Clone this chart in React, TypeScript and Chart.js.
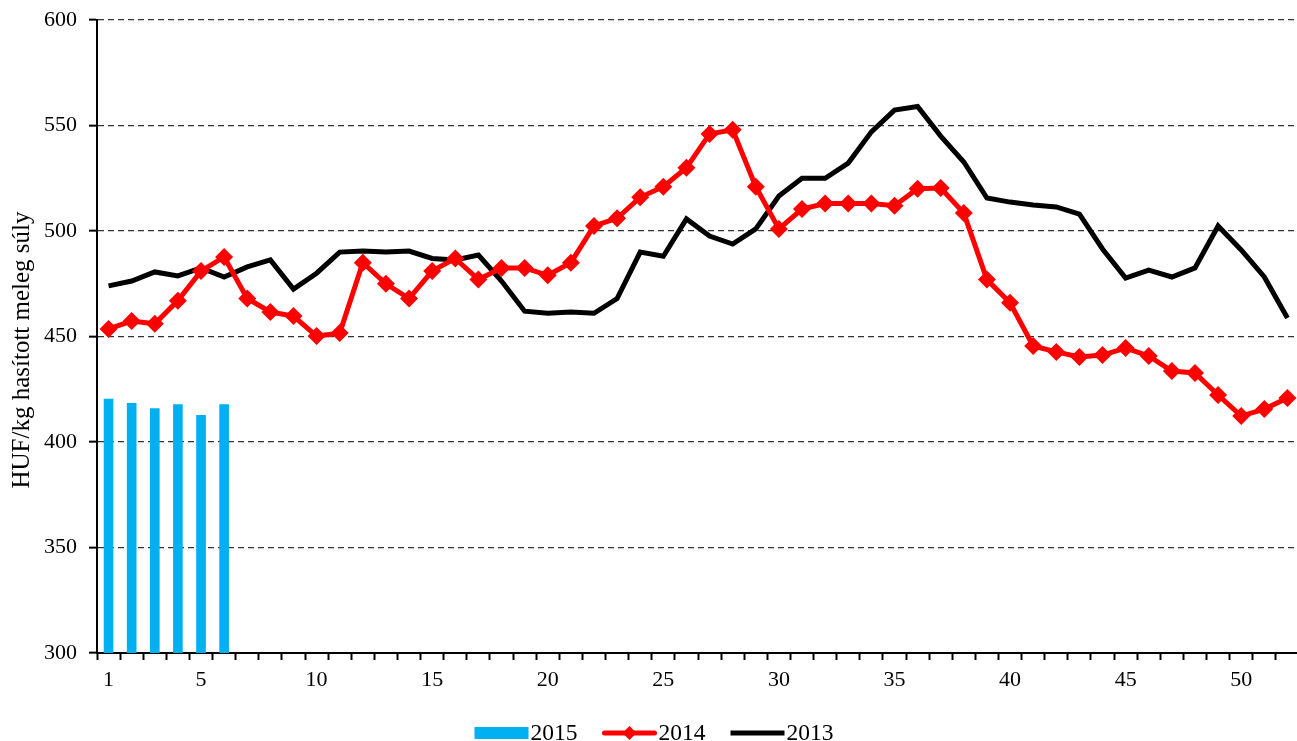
import React, { useEffect, useRef } from 'react';
import { Chart, registerables } from 'chart.js';

Chart.register(...registerables);

const weeks = ['1','2','3','4','5','6','7','8','9','10','11','12','13','14','15','16','17','18','19','20','21','22','23','24','25','26','27','28','29','30','31','32','33','34','35','36','37','38','39','40','41','42','43','44','45','46','47','48','49','50','51','52'];
const shownWeekLabels = ['1','5','10','15','20','25','30','35','40','45','50'];

const values2015 = [420.4, 418.3, 415.8, 417.7, 412.6, 417.7];

const values2014 = [
  453.6, 457.3, 456.0, 467.0, 481.0, 487.7, 468.0, 461.6, 459.7, 450.2,
  451.6, 485.0, 475.0, 468.0, 481.0, 487.0, 477.0, 482.5, 482.5, 479.0,
  485.0, 502.4, 506.0, 516.0, 521.0, 530.0, 546.0, 548.0, 521.0, 501.0,
  510.4, 513.0, 513.0, 513.0, 512.0, 520.0, 520.4, 508.5, 477.0, 466.0,
  445.5, 442.7, 440.3, 441.2, 444.5, 440.8, 433.6, 432.7, 422.3, 412.3,
  415.6, 420.9,
];

const values2013 = [
  474.0, 476.3, 480.6, 478.7, 482.5, 478.2, 483.0, 486.3, 472.5, 480.0,
  490.0, 490.5, 490.0, 490.5, 487.0, 486.3, 488.6, 476.3, 462.0, 461.0,
  461.6, 461.0, 468.0, 490.0, 488.0, 505.7, 497.6, 493.8, 501.0, 516.6,
  525.0, 525.0, 532.2, 547.0, 557.3, 559.0, 545.0, 532.7, 515.6, 513.7,
  512.3, 511.4, 508.0, 491.5, 477.7, 481.5, 478.2, 482.5, 502.4, 491.0,
  478.2, 458.8,
];

const seriesNames = ['2015', '2014', '2013'];
const yMin = 300;
const yMax = 600;
const yStep = 50;
const yTitle = 'HUF/kg hasított meleg súly';

const BLUE = '#00B0F0';
const RED = '#FF0000';
const BLACK = '#000000';
const FONT = "'Liberation Serif', 'Times New Roman', serif";

const titlePlugin = {
  id: 'yTitleText',
  afterDraw(chart: any) {
    const ctx = chart.ctx as CanvasRenderingContext2D;
    ctx.save();
    ctx.font = `25px ${FONT}`;
    ctx.fillStyle = '#000';
    ctx.textAlign = 'center';
    ctx.textBaseline = 'middle';
    ctx.translate(22, 350);
    ctx.rotate(-Math.PI / 2);
    ctx.fillText(yTitle, 0, 0);
    ctx.restore();
  },
};

const legendPlugin = {
  id: 'customLegend',
  afterDraw(chart: any) {
    const ctx = chart.ctx as CanvasRenderingContext2D;
    ctx.save();
    ctx.font = `23.5px ${FONT}`;
    ctx.textBaseline = 'alphabetic';
    ctx.fillStyle = '#000';
    const symW = 54;
    const gapSymText = 2;
    const gapItems = 25;
    const widths = seriesNames.map((n) => symW + gapSymText + ctx.measureText(n).width);
    const total = widths.reduce((a, b) => a + b, 0) + gapItems * (seriesNames.length - 1);
    let x = chart.width / 2 - total / 2;
    const cy = 733;
    const baseline = 740;
    seriesNames.forEach((name, i) => {
      if (i === 0) {
        ctx.fillStyle = BLUE;
        ctx.fillRect(x, cy - 6, symW, 12);
      } else if (i === 1) {
        ctx.strokeStyle = RED;
        ctx.lineWidth = 5;
        ctx.lineCap = 'round';
        ctx.beginPath();
        ctx.moveTo(x + 2, cy);
        ctx.lineTo(x + symW - 2, cy);
        ctx.stroke();
        ctx.fillStyle = RED;
        const mx = x + symW / 2;
        ctx.beginPath();
        ctx.moveTo(mx - 7, cy);
        ctx.lineTo(mx, cy - 7);
        ctx.lineTo(mx + 7, cy);
        ctx.lineTo(mx, cy + 7);
        ctx.closePath();
        ctx.fill();
      } else {
        ctx.strokeStyle = BLACK;
        ctx.lineWidth = 5;
        ctx.lineCap = 'butt';
        ctx.beginPath();
        ctx.moveTo(x, cy);
        ctx.lineTo(x + symW, cy);
        ctx.stroke();
      }
      ctx.fillStyle = '#000';
      ctx.fillText(name, x + symW + gapSymText, baseline);
      x += widths[i] + gapItems;
    });
    ctx.restore();
  },
};

function ChartView() {
  const canvasRef = useRef<HTMLCanvasElement | null>(null);

  useEffect(() => {
    const canvas = canvasRef.current;
    if (!canvas) return;
    const chart = new Chart(canvas, {
      type: 'bar',
      data: {
        labels: weeks,
        datasets: [
          {
            type: 'bar',
            label: seriesNames[0],
            data: values2015,
            backgroundColor: BLUE,
            borderWidth: 0,
            barThickness: 9,
            order: 3,
          } as any,
          {
            type: 'line',
            label: seriesNames[1],
            data: values2014,
            borderColor: RED,
            backgroundColor: RED,
            borderWidth: 5,
            pointStyle: 'rectRot',
            pointRadius: 9,
            pointBorderWidth: 0,
            pointBackgroundColor: RED,
            tension: 0,
            order: 1,
          } as any,
          {
            type: 'line',
            label: seriesNames[2],
            data: values2013,
            borderColor: BLACK,
            backgroundColor: BLACK,
            borderWidth: 5,
            pointRadius: 0,
            tension: 0,
            order: 2,
          } as any,
        ],
      },
      options: {
        responsive: false,
        animation: false,
        devicePixelRatio: 1,
        layout: { padding: { top: 20, right: 7, left: 0, bottom: 0 } },
        plugins: {
          legend: { display: false },
          tooltip: { enabled: false },
        },
        scales: {
          x: {
            type: 'category',
            offset: true,
            grid: {
              offset: true,
              drawOnChartArea: false,
              drawTicks: true,
              tickLength: 7,
              tickColor: '#000',
              tickWidth: 2,
            },
            border: { display: true, color: '#000', width: 2 },
            ticks: {
              autoSkip: false,
              maxRotation: 0,
              minRotation: 0,
              padding: 7,
              color: '#000',
              font: { family: FONT, size: 22 },
              callback: (_v: any, i: number) => (shownWeekLabels.includes(weeks[i]) ? weeks[i] : ''),
            },
            afterFit: (scale: any) => {
              scale.height = 88;
              scale.paddingLeft = 0;
              scale.paddingRight = 0;
            },
          },
          y: {
            type: 'linear',
            min: yMin,
            max: yMax,
            ticks: {
              stepSize: yStep,
              padding: 12,
              color: '#000',
              font: { family: FONT, size: 22 },
            },
            grid: {
              color: (c: any) => (c.tick && c.tick.value === yMin ? 'rgba(0,0,0,0)' : '#333'),
              lineWidth: 1.3,
              drawTicks: true,
              tickLength: 8,
              tickColor: '#000',
              tickWidth: 2,
            },
            border: { display: true, color: '#000', width: 2, dash: [6, 4] },
            afterFit: (scale: any) => {
              scale.width = 97;
              scale.paddingTop = 0;
              scale.paddingBottom = 0;
            },
          },
        },
      },
      plugins: [legendPlugin, titlePlugin],
    });
    return () => chart.destroy();
  }, []);

  return <canvas ref={canvasRef} width={1308} height={741} style={{ display: 'block' }} />;
}

export default function App() {
  return (
    <div style={{ position: 'fixed', left: 0, top: 0, width: 1297, height: 741, overflow: 'hidden', background: '#fff' }}>
      <ChartView />
    </div>
  );
}
